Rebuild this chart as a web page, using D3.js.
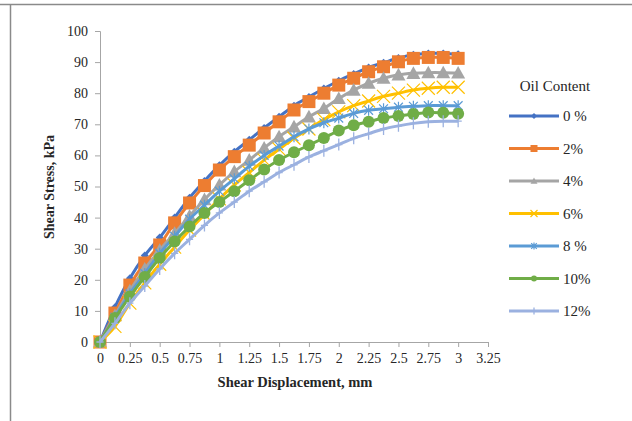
<!DOCTYPE html>
<html><head><meta charset="utf-8">
<script src="https://cdn.jsdelivr.net/npm/d3@7"></script>
<style>body{margin:0;background:#fff}svg{display:block}</style>
</head><body>
<svg id="c" width="632" height="421"></svg>
<script>
const displacement = [0,0.125,0.25,0.375,0.5,0.625,0.75,0.875,1,1.125,1.25,1.375,1.5,1.625,1.75,1.875,2,2.125,2.25,2.375,2.5,2.625,2.75,2.875,3];
const seriesNames = ["0 %","2%","4%","6%","8 %","10%","12%"];
const oil0  = [0,11.2,20.5,27.8,33.6,40,46.4,51.8,56.8,61.2,65,68.8,72.4,76,78.8,81.5,84,86.2,88.3,89.8,91.3,92.4,92.8,92.8,92.5];
const oil2  = [0,9.3,18.3,25.4,31.2,38.3,44.7,50.3,55.3,59.6,63.3,67.2,70.8,74.6,77.3,80,82.6,84.8,86.9,88.5,90.1,91.2,91.5,91.5,91.2];
const oil4  = [0,8.5,16.5,23.5,29.5,35,40.5,45.8,50.5,54.8,58.5,62.4,66,69.2,72.4,75.1,78.3,81,83.2,84.8,85.9,86.4,86.6,86.6,86.5];
const oil6  = [0,5,12.5,19,25,30.5,36,41,46,50.5,54.5,58.5,62,65.5,68.5,71.5,74,76,77.5,79,80,81,81.6,81.9,81.9];
const oil8  = [0,8,15.5,22,28.5,34,39.5,44,48.5,52.5,56.5,60,63,66,68.5,70.5,72,73.5,74.5,75,75.5,75.8,76,76,76];
const oil10 = [0,7.7,14.6,20.9,27,32.3,37.1,41.5,45,48.5,52,55.5,58.5,61,63.3,65.6,68,69.7,70.8,72,72.7,73.3,73.8,73.7,73.4];
const oil12 = [0,6,12.5,18,23.5,28.5,33,37.5,41.5,45,48.5,51.5,54.5,57,59.5,61.5,63.5,65.5,67,68.5,69.5,70.3,70.8,71,71];
const xTicks = [0,0.25,0.5,0.75,1,1.25,1.5,1.75,2,2.25,2.5,2.75,3,3.25];
const yTicks = [0,10,20,30,40,50,60,70,80,90,100];

const allValues = [oil0,oil2,oil4,oil6,oil8,oil10,oil12];
const colors = ["#4472C4","#ED7D31","#A5A5A5","#FFC000","#5B9BD5","#70AD47","#9BB1E0"];
const markerTypes = ["diamond","square","triangle","x","star","circle","plus"];

const svg = d3.select("#c");
const font = "'Liberation Serif','Times New Roman',serif";

svg.append("line").attr("x1",0).attr("x2",632).attr("y1",4.5).attr("y2",4.5).attr("stroke","#8a8a8a").attr("stroke-width",1.5);
svg.append("line").attr("x1",10.5).attr("x2",10.5).attr("y1",4).attr("y2",421).attr("stroke","#8a8a8a").attr("stroke-width",1.5);

const x = d3.scaleLinear().domain([0,3.25]).range([100,488]);
const y = d3.scaleLinear().domain([0,100]).range([342,31]);

const xAxis = svg.append("g").attr("transform","translate(0,342)")
  .call(d3.axisBottom(x).tickValues(xTicks).tickFormat(d=>String(d)).tickSize(5).tickPadding(6));
const yAxis = svg.append("g").attr("transform","translate(100,0)")
  .call(d3.axisLeft(y).tickValues(yTicks).tickSize(5).tickPadding(7));
[xAxis,yAxis].forEach(g=>{
  g.select(".domain").attr("stroke","#a6a6a6").attr("stroke-width",1);
  g.selectAll(".tick line").attr("stroke","#a6a6a6");
  g.selectAll("text").attr("fill","#262626").style("font-family",font).style("font-size","14px");
});

svg.append("text").attr("x",295).attr("y",387).attr("text-anchor","middle")
  .style("font-family",font).style("font-weight","bold").style("font-size","14.5px").attr("fill","#262626")
  .text("Shear Displacement, mm");
svg.append("text").attr("transform","translate(54,187) rotate(-90)").attr("text-anchor","middle")
  .style("font-family",font).style("font-weight","bold").style("font-size","14px").attr("fill","#262626")
  .text("Shear Stress, kPa");

function drawMarker(g, type, cx, cy, s, color){
  const h = s/2;
  if(type==="diamond"){
    g.append("path").attr("d",`M${cx},${cy-h}L${cx+h},${cy}L${cx},${cy+h}L${cx-h},${cy}Z`).attr("fill",color);
  } else if(type==="square"){
    g.append("rect").attr("x",cx-h).attr("y",cy-h).attr("width",s).attr("height",s).attr("fill",color);
  } else if(type==="triangle"){
    g.append("path").attr("d",`M${cx},${cy-h}L${cx+h},${cy+h*0.8}L${cx-h},${cy+h*0.8}Z`).attr("fill",color);
  } else if(type==="circle"){
    g.append("circle").attr("cx",cx).attr("cy",cy).attr("r",h).attr("fill",color);
  } else if(type==="x"){
    g.append("path").attr("d",`M${cx-h},${cy-h}L${cx+h},${cy+h}M${cx-h},${cy+h}L${cx+h},${cy-h}`).attr("stroke",color).attr("stroke-width",1.2).attr("fill","none");
  } else if(type==="star"){
    g.append("path").attr("d",`M${cx-h*0.8},${cy-h*0.8}L${cx+h*0.8},${cy+h*0.8}M${cx-h*0.8},${cy+h*0.8}L${cx+h*0.8},${cy-h*0.8}M${cx},${cy-h}L${cx},${cy+h}`).attr("stroke",color).attr("stroke-width",1.2).attr("fill","none");
  } else if(type==="plus"){
    g.append("path").attr("d",`M${cx},${cy-h}L${cx},${cy+h}M${cx-h*0.6},${cy}L${cx+h*0.6},${cy}`).attr("stroke",color).attr("stroke-width",1.3).attr("fill","none");
  }
}
const plotSizes = [8,13,14,13,11,12,12];
const line = d3.line().x((d,i)=>x(displacement[i])).y(d=>y(d)).curve(d3.curveCatmullRom.alpha(0.5));

allValues.forEach((vals,k)=>{
  const g = svg.append("g");
  g.append("path").attr("d",line(vals)).attr("fill","none").attr("stroke",colors[k]).attr("stroke-width",3).attr("stroke-linejoin","round");
  vals.forEach((v,i)=>drawMarker(g, markerTypes[k], x(displacement[i]), y(v), plotSizes[k], colors[k]));
});

const lg = svg.append("g");
lg.append("text").attr("x",555).attr("y",91).attr("text-anchor","middle")
  .style("font-family",font).style("font-size","15px").attr("fill","#262626").text("Oil Content");
const legendSizes = [6,7,7,7,7,6,7];
seriesNames.forEach((name,k)=>{
  const yy = 116 + k*32.5;
  lg.append("line").attr("x1",509).attr("x2",559).attr("y1",yy).attr("y2",yy).attr("stroke",colors[k]).attr("stroke-width",3);
  drawMarker(lg, markerTypes[k], 534, yy, legendSizes[k], colors[k]);
  lg.append("text").attr("x",563).attr("y",yy+5).style("font-family",font).style("font-size","15px").attr("fill","#262626").text(name);
});
</script>
</body></html>
